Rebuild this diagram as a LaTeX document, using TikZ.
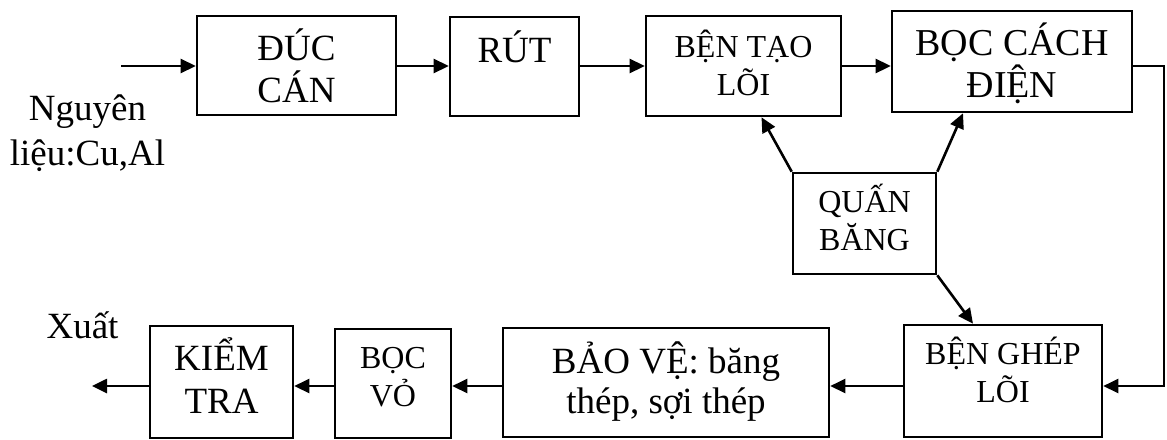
\documentclass[tikz,border=0pt]{standalone}
\usepackage{fontspec}
\setmainfont{Liberation Serif}
\usepackage{tikz}
\usetikzlibrary{arrows.meta}
\usetikzlibrary{calc}

\begin{document}
\begin{tikzpicture}[x=1pt, y=-1pt, line width=2.6pt,
        box_style/.style={rectangle,draw=black,line width=2.6pt,inner sep=0pt,anchor=base,align=center,font=\fontsize{37}{42}\selectfont},
        small_box_style/.style={box_style,font=\fontsize{32}{38}\selectfont},
        text_style/.style={align=center,inner sep=0pt,anchor=base,font=\fontsize{37}{45}\selectfont},
        edge_style/.style={draw=black, line width=2.6pt,-{Triangle[length=15pt,width=14pt]}}]

        \useasboundingbox (0,0) rectangle (1167,439);

        % top row
        \node [box_style, minimum width=199, text height=86pt, text depth=13pt](n_duc) at (296.5,102) {ĐÚC\\CÁN};

        \node [box_style, minimum width=129, text height=45pt, text depth=54pt](n_rut) at (514.5,62) {RÚT};

        \node [small_box_style, minimum width=195, text height=79pt, text depth=21pt](n_ben) at (743.5,95) {BỆN TẠO\\LÕI};

        \node [box_style, minimum width=240, text height=86pt, text depth=15pt, font=\fontsize{38}{42}\selectfont](n_boc) at (1012,97) {BỌC CÁCH\\ĐIỆN};

        \node [small_box_style, minimum width=143, text height=77pt, text depth=24pt](n_quan) at (864.5,250) {QUẤN\\BĂNG};

        % bottom row
        \node [small_box_style, minimum width=198, text height=77pt, text depth=35pt](n_ghep) at (1003,402) {BỆN GHÉP\\LÕI};

        \node [box_style, minimum width=326, text height=85pt, text depth=24pt, font=\fontsize{37}{40}\selectfont](n_bao) at (666,413) {BẢO VỆ: băng\\thép, sợi thép};

        \node [small_box_style, minimum width=116, text height=77pt, text depth=32pt](n_vo) at (393,406) {BỌC\\VỎ};

        \node [box_style, minimum width=143, text height=87pt, text depth=25pt, font=\fontsize{37}{43}\selectfont](n_kiem) at (221.5,413) {KIỂM\\TRA};

        % labels
        \node [text_style](n_src) at (87.5,165) {Nguyên\\liệu:Cu,Al};

        \node [text_style](n_xuat) at (82.5,338) {Xuất};

        \coordinate (n_in) at (121,66);
        \coordinate (n_out) at (92,386);
        \coordinate (row_top) at (0,66);
        \coordinate (row_bot) at (0,386);
        \coordinate (c_r1) at (1164,66);
        \coordinate (c_r2) at (1164,386);

        \draw [edge_style] (n_in) -- (n_in -| n_duc.west);

        \draw [edge_style] (n_duc.east |- row_top) -- (n_rut.west |- row_top);

        \draw [edge_style] (n_rut.east |- row_top) -- (n_ben.west |- row_top);

        \draw [edge_style] (n_ben.east |- row_top) -- (n_boc.west |- row_top);

        \draw [edge_style] (n_boc.east |- row_top) -- (c_r1) -- (c_r2) -- (n_ghep.east |- row_bot);

        \draw [edge_style] (n_quan.north west) -- ([xshift=18pt]n_ben.south);

        \draw [edge_style] (n_quan.north east) -- ([xshift=-49pt]n_boc.south);

        \draw [edge_style] (n_quan.south east) -- ([xshift=-30pt]n_ghep.north);

        \draw [edge_style] (n_ghep.west |- row_bot) -- (n_bao.east |- row_bot);

        \draw [edge_style] (n_bao.west |- row_bot) -- (n_vo.east |- row_bot);

        \draw [edge_style] (n_vo.west |- row_bot) -- (n_kiem.east |- row_bot);

        \draw [edge_style] (n_kiem.west |- row_bot) -- (n_out);

\end{tikzpicture}
\end{document}
